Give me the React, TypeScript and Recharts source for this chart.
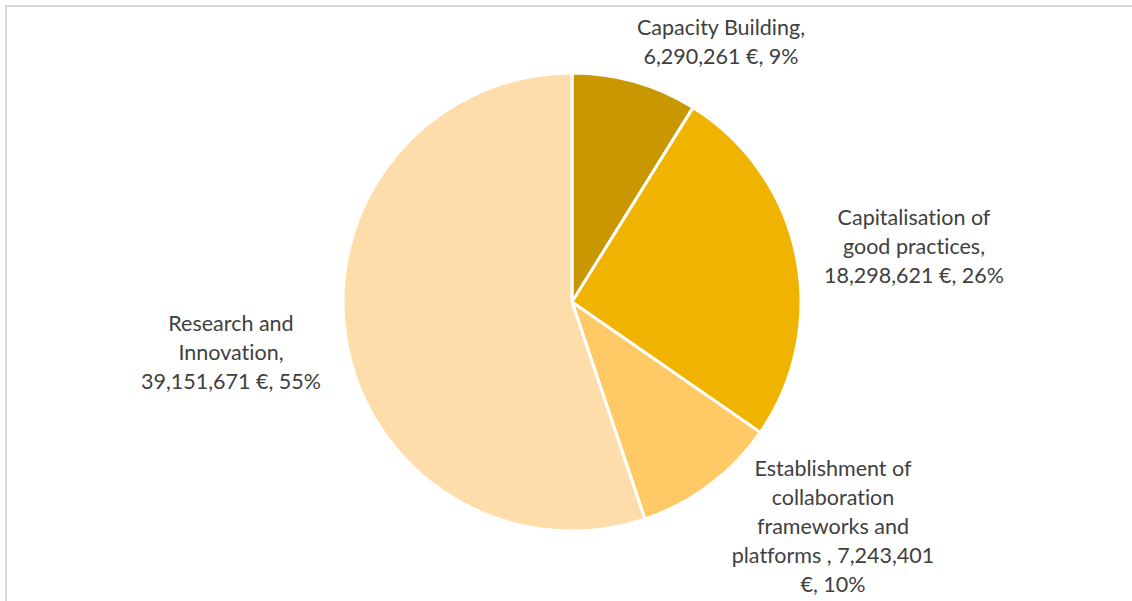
import React from 'react';
import { PieChart, Pie, Cell } from 'recharts';

const categories = [
  'Capacity Building',
  'Capitalisation of good practices',
  'Establishment of collaboration frameworks and platforms',
  'Research and Innovation',
];
const amounts = [6290261, 18298621, 7243401, 39151671];
const labelLines = [
  ['Capacity Building,', '6,290,261 €, 9%'],
  ['Capitalisation of', 'good practices,', '18,298,621 €, 26%'],
  ['Establishment of', 'collaboration', 'frameworks and', 'platforms , 7,243,401', '€, 10%'],
  ['Research and', 'Innovation,', '39,151,671 €, 55%'],
];

const colors = ['#C99700', '#F0B400', '#FFC966', '#FFDDAA'];
// label block centre, relative to pie centre
const labelOffsets = [
  [149, -261],
  [342, -56],
  [261, 224],
  [-341, 50],
];

const data = categories.map((name, i) => ({ name, value: amounts[i] }));

const renderLabel = (props: any) => {
  const { cx, cy, index } = props;
  const lines = labelLines[index];
  const [dx, dy] = labelOffsets[index];
  const x = cx + dx;
  const y0 = cy + dy - ((lines.length - 1) * 29) / 2;
  return (
    <text
      x={x}
      y={y0}
      textAnchor="middle"
      fill="#404040"
      fontSize={21.5}
      fontFamily="Lato, 'Noto Sans', sans-serif"
      style={{ fontVariantLigatures: 'none' }}
    >
      {lines.map((l, i) => (
        <tspan key={i} x={x} y={y0 + i * 29} dominantBaseline="central">
          {l}
        </tspan>
      ))}
    </text>
  );
};

const App = () => {
  return (
    <div
      style={{
        position: 'absolute',
        left: 0,
        top: 0,
        width: 1132,
        height: 601,
        overflow: 'hidden',
        background: '#fff',
      }}
    >
      <div
        style={{
          position: 'absolute',
          left: 5,
          top: 5,
          width: 1300,
          height: 800,
          border: '2px solid #D9D9D9',
        }}
      />
      <div style={{ position: 'absolute', left: 0, top: 0 }}>
        <PieChart width={1132} height={601} margin={{ top: 0, right: 0, bottom: 0, left: 0 }}>
          <Pie
            data={data}
            dataKey="value"
            nameKey="name"
            cx={572}
            cy={302}
            outerRadius={229}
            startAngle={90}
            endAngle={-270}
            stroke="#fff"
            strokeWidth={3}
            label={renderLabel}
            labelLine={false}
            isAnimationActive={false}
          >
            {data.map((d, i) => (
              <Cell key={d.name} fill={colors[i]} />
            ))}
          </Pie>
        </PieChart>
      </div>
    </div>
  );
};

export default App;
